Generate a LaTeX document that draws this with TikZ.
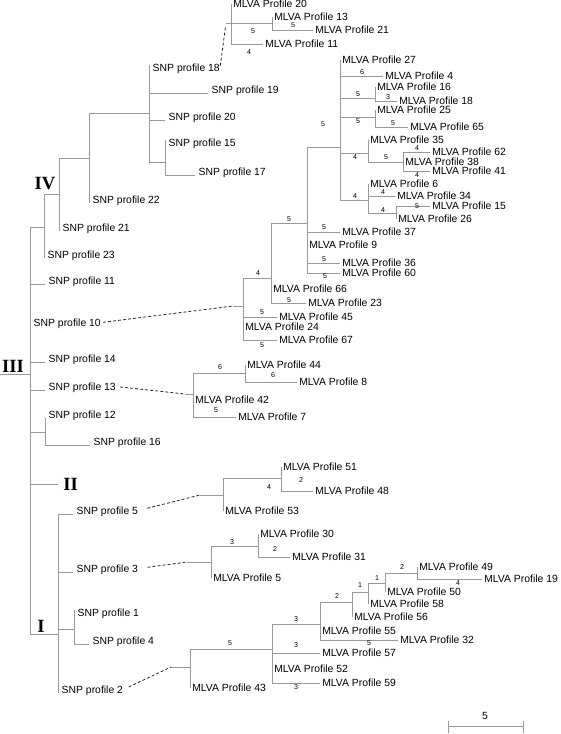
\documentclass[tikz,border=0pt]{standalone}
\usepackage{fontspec}
\setmainfont{Liberation Sans}
\newfontfamily\cladefont{Liberation Serif}

\begin{document}
\begin{tikzpicture}[x=0.75pt,y=-0.75pt,
  branch/.style={black!40, line width=0.6pt},
  link/.style={black!85, line width=0.6pt, dash pattern=on 2.2pt off 1.6pt, shorten <=1.5pt},
  lab/.style={anchor=west, inner sep=0pt, text height=5.6pt, text depth=0pt,
    font=\fontsize{7.8}{9}\selectfont},
  snp/.style={lab, xshift=2.6pt, yshift=2.6pt},
  snptop/.style={lab, xshift=2.6pt, yshift=-2pt},
  mlva/.style={lab, xshift=1.5pt},
  num/.style={inner sep=0pt, font=\fontsize{5.3}{6}\selectfont},
  clade/.style={inner sep=0pt, font=\fontsize{14}{16}\selectfont\cladefont\bfseries}]
\useasboundingbox (0,0) rectangle (560,734);

% SNP tree: root and spine
\coordinate (root) at (0,374);
\coordinate (r) at (30,374);
% clade IV
\coordinate (iv1) at (44,227);
\coordinate (iv2) at (59,194);
\coordinate (iv3) at (89,158);
\coordinate (iv4) at (149,113);
\coordinate (iv5) at (165,162);
\coordinate (s18) at (149,65);
\coordinate (s19) at (208,93);
\coordinate (s20) at (165,120);
\coordinate (s15) at (165,140);
\coordinate (s17) at (195,175);
\coordinate (s22) at (89,203);
\coordinate (s21) at (59,231);
\coordinate (s23) at (44,258);
% clade III leaves
\coordinate (s11) at (45,284);
\coordinate (s10) at (30,326);
\coordinate (s14) at (45,362);
\coordinate (s13) at (45,390);
\coordinate (g12) at (45,432);
\coordinate (s12) at (45,418);
\coordinate (s16) at (90,445);
% clades II and I
\coordinate (ii) at (58,484);
\coordinate (g1) at (58,634);
\coordinate (s5) at (73,514);
\coordinate (s3) at (73,572);
\coordinate (g14) at (74,629);
\coordinate (s1) at (74,610);
\coordinate (s4) at (89,644);
\coordinate (s2) at (58,693);

\draw[branch] (root) -- (r);
\draw[branch] (r) |- (iv1) (r) |- (s11) (r) |- (s10) (r) |- (s14)
  (r) |- (s13) (r) |- (g12) (r) |- (ii) (r) |- (g1);
\draw[branch] (iv1) |- (iv2) (iv1) |- (s23);
\draw[branch] (iv2) |- (iv3) (iv2) |- (s21);
\draw[branch] (iv3) |- (iv4) (iv3) |- (s22);
\draw[branch] (iv4) |- (s18) (iv4) |- (s19) (iv4) |- (s20) (iv4) |- (iv5);
\draw[branch] (iv5) |- (s15) (iv5) |- (s17);
\draw[branch] (g12) |- (s12) (g12) |- (s16);
\draw[branch] (g1) |- (s5) (g1) |- (s3) (g1) |- (g14) (g1) |- (s2);
\draw[branch] (g14) |- (s1) (g14) |- (s4);

% SNP labels
\node[snptop] (ls18) at (s18) {SNP profile 18};
\node[snp] (ls19) at (s19) {SNP profile 19};
\node[snp] (ls20) at (s20) {SNP profile 20};
\node[snptop] (ls15) at (s15) {SNP profile 15};
\node[snp] (ls17) at (s17) {SNP profile 17};
\node[snp] (ls22) at (s22) {SNP profile 22};
\node[snp] (ls21) at (s21) {SNP profile 21};
\node[snp] (ls23) at (s23) {SNP profile 23};
\node[snp] (ls11) at (s11) {SNP profile 11};
\node[snp] (ls10) at (s10) {SNP profile 10};
\node[snp] (ls14) at (s14) {SNP profile 14};
\node[snp] (ls13) at (s13) {SNP profile 13};
\node[snp] (ls12) at (s12) {SNP profile 12};
\node[snp] (ls16) at (s16) {SNP profile 16};
\node[snp] (ls5) at (s5) {SNP profile 5};
\node[snp] (ls3) at (s3) {SNP profile 3};
\node[snptop] (ls1) at (s1) {SNP profile 1};
\node[snp] (ls4) at (s4) {SNP profile 4};
\node[snp] (ls2) at (s2) {SNP profile 2};

% clade names
\node[clade] (cIV) at (45,184) {IV};
\node[clade] (cIII) at (13,366) {III};
\node[clade, anchor=west] (cII) at ([xshift=3.8pt]ii) {II};
\node[clade] (cI) at (41,626) {I};

% MLVA group A (SNP profile 18)
\coordinate (a0s) at (226,23);
\coordinate (a0) at (231,23);
\coordinate (a1) at (272,23);
\coordinate (m20) at (231,4);
\coordinate (m13) at (272,17);
\coordinate (m21) at (313,30);
\coordinate (m11) at (263,44);
\draw[branch] (a0s) -- (a0);
\draw[branch] (a0) |- (m20) (a0) |- (a1) (a0) |- (m11);
\draw[branch] (a1) |- (m13) (a1) |- (m21);
\node[mlva] (lm20) at (m20) {MLVA Profile 20};
\node[mlva] (lm13) at (m13) {MLVA Profile 13};
\node[mlva] (lm21) at (m21) {MLVA Profile 21};
\node[mlva] (lm11) at (m11) {MLVA Profile 11};
\node[num] (na1) at (253,31) {5};
\node[num] (na2) at (293,25) {5};
\node[num] (na3) at (249,52) {4};

% MLVA group B (SNP profile 10)
\coordinate (b0s) at (233,306);
\coordinate (b0) at (243,306);
\coordinate (b1) at (271,278);
\coordinate (b2) at (307,223);
\coordinate (b3) at (340,147);
\coordinate (b4) at (375,98);
\coordinate (b5) at (375,117);
\coordinate (b6) at (368,153);
\coordinate (b7) at (403,162);
\coordinate (b8) at (368,200);
\coordinate (b9) at (396,213);
\coordinate (m45) at (277,317);
\coordinate (m24) at (243,327);
\coordinate (m67) at (277,340);
\coordinate (m66) at (271,289);
\coordinate (m23) at (306,303);
\coordinate (m37) at (340,232);
\coordinate (m9) at (307,245);
\coordinate (m36) at (340,263);
\coordinate (m60) at (340,273);
\coordinate (m27) at (340,60);
\coordinate (m4) at (383,76);
\coordinate (m16) at (375,87);
\coordinate (m18) at (397,101);
\coordinate (m25) at (375,110);
\coordinate (m65) at (408,127);
\coordinate (m35) at (368,140);
\coordinate (m62) at (430,152);
\coordinate (m41) at (430,171);
\coordinate (m6) at (368,184);
\coordinate (m34) at (395,196);
\coordinate (m15) at (430,206);
\coordinate (m26) at (396,219);
\draw[branch] (b0s) -- (b0);
\draw[branch] (b0) |- (b1) (b0) |- (m45) (b0) |- (m24) (b0) |- (m67);
\draw[branch] (b1) |- (b2) (b1) |- (m66) (b1) |- (m23);
\draw[branch] (b2) |- (b3) (b2) |- (m37) (b2) |- (m9) (b2) |- (m36) (b2) |- (m60);
\draw[branch] (b3) |- (m27) (b3) |- (m4) (b3) |- (b4) (b3) |- (b5) (b3) |- (b6) (b3) |- (b8);
\draw[branch] (b4) |- (m16) (b4) |- (m18);
\draw[branch] (b5) |- (m25) (b5) |- (m65);
\draw[branch] (b6) |- (m35) (b6) |- (b7);
\draw[branch] (b7) |- (m62) (b7) |- (m41);
\draw[branch] (b8) |- (m6) (b8) |- (m34) (b8) |- (b9);
\draw[branch] (b9) |- (m15) (b9) |- (m26);
\node[mlva] (lm45) at (m45) {MLVA Profile 45};
\node[mlva] (lm24) at (m24) {MLVA Profile 24};
\node[mlva] (lm67) at (m67) {MLVA Profile 67};
\node[mlva] (lm66) at (m66) {MLVA Profile 66};
\node[mlva] (lm23) at (m23) {MLVA Profile 23};
\node[mlva] (lm37) at (m37) {MLVA Profile 37};
\node[mlva] (lm9) at (m9) {MLVA Profile 9};
\node[mlva] (lm36) at (m36) {MLVA Profile 36};
\node[mlva] (lm60) at (m60) {MLVA Profile 60};
\node[mlva] (lm27) at (m27) {MLVA Profile 27};
\node[mlva] (lm4) at (m4) {MLVA Profile 4};
\node[mlva] (lm16) at (m16) {MLVA Profile 16};
\node[mlva] (lm18) at (m18) {MLVA Profile 18};
\node[mlva] (lm25) at (m25) {MLVA Profile 25};
\node[mlva] (lm65) at (m65) {MLVA Profile 65};
\node[mlva] (lm35) at (m35) {MLVA Profile 35};
\node[mlva] (lm62) at (m62) {MLVA Profile 62};
\node[mlva] (lm38) at (b7) {MLVA Profile 38};
\node[mlva] (lm41) at (m41) {MLVA Profile 41};
\node[mlva] (lm6) at (m6) {MLVA Profile 6};
\node[mlva] (lm34) at (m34) {MLVA Profile 34};
\node[mlva] (lm15) at (m15) {MLVA Profile 15};
\node[mlva] (lm26) at (m26) {MLVA Profile 26};
\node[num] (nb1) at (258,273) {4};
\node[num] (nb2) at (262,312) {5};
\node[num] (nb3) at (262,345) {5};
\node[num] (nb4) at (289,219) {5};
\node[num] (nb5) at (289,300) {5};
\node[num] (nb6) at (323,124) {5};
\node[num] (nb7) at (324,227) {5};
\node[num] (nb8) at (324,259) {5};
\node[num] (nb9) at (325,276) {5};
\node[num] (nb10) at (362,72) {6};
\node[num] (nb11) at (358,94) {5};
\node[num] (nb12) at (358,121) {5};
\node[num] (nb13) at (355,157) {4};
\node[num] (nb14) at (355,196) {4};
\node[num] (nb15) at (388,97) {3};
\node[num] (nb16) at (393,123) {5};
\node[num] (nb17) at (386,157) {5};
\node[num] (nb18) at (417,148) {4};
\node[num] (nb19) at (417,175) {4};
\node[num] (nb20) at (383,192) {4};
\node[num] (nb21) at (383,210) {4};
\node[num] (nb22) at (417,206) {5};

% MLVA group C (SNP profile 13)
\coordinate (c0s) at (185,394);
\coordinate (c0) at (193,394);
\coordinate (c1) at (245,373);
\coordinate (m42) at (193,400);
\coordinate (m7) at (236,417);
\coordinate (m44) at (245,365);
\coordinate (m8) at (297,382);
\draw[branch] (c0s) -- (c0);
\draw[branch] (c0) |- (c1) (c0) |- (m42) (c0) |- (m7);
\draw[branch] (c1) |- (m44) (c1) |- (m8);
\node[mlva] (lm42) at (m42) {MLVA Profile 42};
\node[mlva] (lm7) at (m7) {MLVA Profile 7};
\node[mlva] (lm44) at (m44) {MLVA Profile 44};
\node[mlva] (lm8) at (m8) {MLVA Profile 8};
\node[num] (nc1) at (220,367) {6};
\node[num] (nc2) at (216,410) {5};
\node[num] (nc3) at (273,375) {6};

% MLVA group D (SNP profile 5)
\coordinate (d0s) at (200,495);
\coordinate (d0) at (223,495);
\coordinate (d1) at (281,478);
\coordinate (m53) at (223,511);
\coordinate (m51) at (281,467);
\coordinate (m48) at (313,491);
\draw[branch] (d0s) -- (d0);
\draw[branch] (d0) |- (d1) (d0) |- (m53);
\draw[branch] (d1) |- (m51) (d1) |- (m48);
\node[mlva] (lm53) at (m53) {MLVA Profile 53};
\node[mlva] (lm51) at (m51) {MLVA Profile 51};
\node[mlva] (lm48) at (m48) {MLVA Profile 48};
\node[num] (nd1) at (269,487) {4};
\node[num] (nd2) at (301,480) {2};

% MLVA group E (SNP profile 3)
\coordinate (e0s) at (187,562);
\coordinate (e0) at (211,562);
\coordinate (e1) at (258,546);
\coordinate (m5) at (211,578);
\coordinate (m30) at (258,534);
\coordinate (m31) at (290,557);
\draw[branch] (e0s) -- (e0);
\draw[branch] (e0) |- (e1) (e0) |- (m5);
\draw[branch] (e1) |- (m30) (e1) |- (m31);
\node[mlva] (lm5) at (m5) {MLVA Profile 5};
\node[mlva] (lm30) at (m30) {MLVA Profile 30};
\node[mlva] (lm31) at (m31) {MLVA Profile 31};
\node[num] (ne1) at (232,542) {3};
\node[num] (ne2) at (275,549) {2};

% MLVA group F (SNP profile 2)
\coordinate (f0s) at (171,667);
\coordinate (f0) at (190,667);
\coordinate (f1) at (272,649);
\coordinate (f2) at (320,624);
\coordinate (f3) at (352,602);
\coordinate (f4) at (368,592);
\coordinate (f5) at (385,583);
\coordinate (f6) at (417,573);
\coordinate (m43) at (190,688);
\coordinate (m57) at (320,653);
\coordinate (m52) at (272,669);
\coordinate (m59) at (320,683);
\coordinate (m55) at (320,631);
\coordinate (m32) at (398,640);
\coordinate (m56) at (352,617);
\coordinate (m58) at (368,604);
\coordinate (m50) at (385,592);
\coordinate (m49) at (417,567);
\coordinate (m19) at (482,579);
\draw[branch] (f0s) -- (f0);
\draw[branch] (f0) |- (f1) (f0) |- (m43);
\draw[branch] (f1) |- (f2) (f1) |- (m57) (f1) |- (m52) (f1) |- (m59);
\draw[branch] (f2) |- (f3) (f2) |- (m55) (f2) |- (m32);
\draw[branch] (f3) |- (f4) (f3) |- (m56);
\draw[branch] (f4) |- (f5) (f4) |- (m58);
\draw[branch] (f5) |- (f6) (f5) |- (m50);
\draw[branch] (f6) |- (m49) (f6) |- (m19);
\node[mlva] (lm43) at (m43) {MLVA Profile 43};
\node[mlva] (lm57) at (m57) {MLVA Profile 57};
\node[mlva] (lm52) at (m52) {MLVA Profile 52};
\node[mlva] (lm59) at (m59) {MLVA Profile 59};
\node[mlva] (lm55) at (m55) {MLVA Profile 55};
\node[mlva] (lm32) at (m32) {MLVA Profile 32};
\node[mlva] (lm56) at (m56) {MLVA Profile 56};
\node[mlva] (lm58) at (m58) {MLVA Profile 58};
\node[mlva] (lm50) at (m50) {MLVA Profile 50};
\node[mlva] (lm49) at (m49) {MLVA Profile 49};
\node[mlva] (lm19) at (m19) {MLVA Profile 19};
\node[num] (nf1) at (230,643) {5};
\node[num] (nf2) at (296,619) {3};
\node[num] (nf3) at (296,645) {3};
\node[num] (nf4) at (296,687) {3};
\node[num] (nf5) at (337,596) {2};
\node[num] (nf6) at (369,643) {5};
\node[num] (nf7) at (360,585) {1};
\node[num] (nf8) at (377,578) {1};
\node[num] (nf9) at (402,567) {2};
\node[num] (nf10) at (458,583) {4};

% dashed links SNP -> MLVA
\draw[link, shorten >=3.5pt] (ls18.east) -- (a0s);
\draw[link] (ls10.east) -- (b0s);
\draw[link, shorten <=3pt] (ls13.east) -- (c0s);
\draw[link, shorten <=7pt] (ls5.east) -- (d0s);
\draw[link, shorten <=7pt] (ls3.east) -- (e0s);
\draw[link, shorten <=4.5pt] (ls2.east) -- (f0s);

% scale bar
\coordinate (sbl) at (448,726);
\coordinate (sbr) at (523,726);
\draw[branch] (sbl) -- (sbr);
\draw[branch] (sbl) ++(0,-5) -- ++(0,12);
\draw[branch] (sbr) ++(0,-5) -- ++(0,12);
\node[inner sep=0pt, font=\fontsize{7.8}{9}\selectfont] (sbt) at (485,716) {5};
\end{tikzpicture}
\end{document}
